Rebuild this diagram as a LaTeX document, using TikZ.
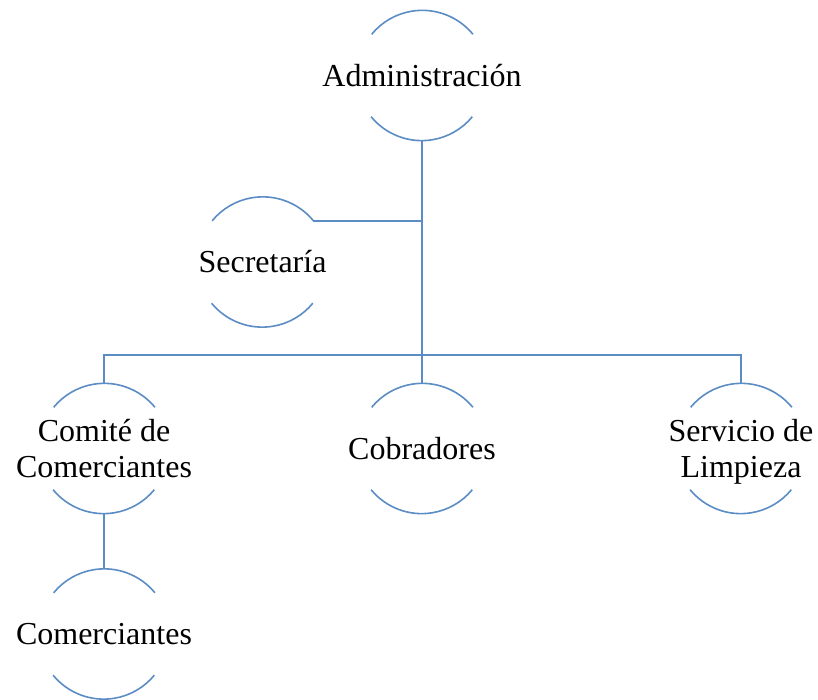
\documentclass[tikz,border=0pt]{standalone}
\usepackage{fontspec}
\setmainfont{Liberation Serif}
\definecolor{lnblue}{HTML}{5B8CC4}
\newcommand{\twoline}[2]{\makebox[0pt]{\raisebox{0pt}[\dimexpr\height+8pt\relax]{\begin{tabular}{@{}c@{}}#1\\#2\end{tabular}}}}
\begin{document}
\begin{tikzpicture}[x=1pt,y=1pt,
  orgc/.style={circle, minimum size=131pt, inner sep=0pt, outer sep=0pt,
    font=\fontsize{32}{36}\selectfont, text=black},
  lnk/.style={draw=lnblue, line width=1.6pt}]
\useasboundingbox (0,0) rectangle (818,700);
\node[orgc] (adm) at (422,624.5) {\makebox[0pt]{Administración}};
\node[orgc] (sec) at (262.5,438) {\makebox[0pt]{Secretaría}};
\node[orgc] (com) at (104,251.5) {\twoline{Comité de}{Comerciantes}};
\node[orgc] (cob) at (422,251.5) {\makebox[0pt]{Cobradores}};
\node[orgc] (ser) at (741,251.5) {\twoline{Servicio de}{Limpieza}};
\node[orgc] (mer) at (104,66) {\makebox[0pt]{Comerciantes}};
\coordinate (bus) at (422,345);
\foreach \n in {adm,sec,com,cob,ser,mer}
  \draw[lnk] (\n.39.4) arc[start angle=39.4, end angle=140.6, radius=65.5pt]
             (\n.219.4) arc[start angle=219.4, end angle=320.6, radius=65.5pt];
\draw[lnk] (adm.south) -- (bus);
\draw[lnk] (sec.39.4) -- (sec.39.4 -| adm.south);
\draw[lnk] (com.north) |- (bus) -| (ser.north);
\draw[lnk] (bus) -- (cob.north);
\draw[lnk] (com.south) -- (mer.north);
\end{tikzpicture}
\end{document}
